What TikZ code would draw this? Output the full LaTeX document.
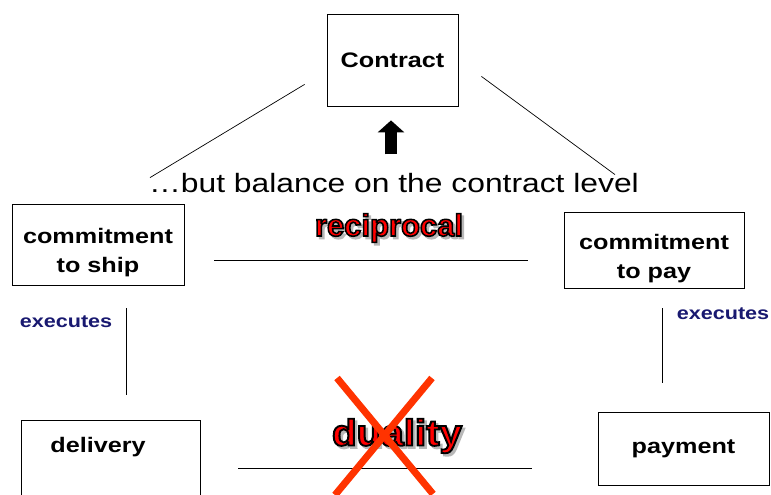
\documentclass[tikz,border=0pt]{standalone}
\usepackage{fontspec}
\setmainfont{Liberation Sans}[FakeStretch=1.2]
\newfontfamily\loudfont{Liberation Sans}[FakeBold=5]
\usetikzlibrary{calc,arrows.meta}

\definecolor{execblue}{RGB}{25,25,112}
\definecolor{crossred}{RGB}{255,51,0}

% black rim round the red words, grey copy as shadow
\newcommand\rimmed[1]{\special{pdf:code 0 0 0 RG}#1}
\newcommand\lowtext[2]{\raisebox{-#1}[\height][\depth]{\begin{tabular}{@{}c@{}}#2\end{tabular}}}

\tikzset{
	box/.style={draw, line width=0.8pt, inner sep=0pt, align=center, font=\bfseries\fontsize{21}{29}\selectfont},
	link/.style={line width=0.7pt},
	exec/.style={text=execblue, inner sep=0pt, font=\bfseries\fontsize{18}{20}\selectfont},
	loud/.style={text=red, inner sep=0pt, font=\loudfont\bfseries\fontsize{31}{31}\selectfont},
	loudshadow/.style={loud, text=black!28},
	xmark/.style={line width=7pt, crossred},
}

\begin{document}
\begin{tikzpicture}[x=1pt,y=-1pt]
	\useasboundingbox (0,0) rectangle (771,495);
	% boxes
	\node[box, minimum width=131pt, minimum height=92pt] (contract) at (392.5,60) {Contract};
	\node[box, minimum width=172pt, minimum height=81pt] (ship) at (98,244.5) {\lowtext{8pt}{commitment\\to ship}};
	\node[box, minimum width=180pt, minimum height=76pt] (pay) at (654,250) {\lowtext{8pt}{commitment\\to pay}};
	\node[box, minimum width=179pt, minimum height=90pt] (delivery) at (110.5,465) {};
	\node[box, draw=none] (deliverytext) at (98,447) {delivery};
	\node[box, minimum width=171pt, minimum height=73pt] (payment) at (683.5,448.5) {payment};
	%
	\node[font=\fontsize{26.5}{30}\selectfont, inner sep=0pt] (balance) at (394,183) {\ldots but balance on the contract level};
	\draw[line width=12pt, -{Triangle[width=26pt,length=12pt]}] ($(contract.south)+(-1.5,48)$) -- ($(contract.south)+(-1.5,14)$);
	% links
	\draw[link] ($(contract.south west)+(-22,-22)$) -- ($(ship.north)+(52,-26)$);
	\draw[link] ($(contract.south east)+(23,-30)$) -- ($(pay.north)+(-39,-37)$);
	\draw[link] ($(ship.east)+(30,15.5)$) -- ($(pay.west)+(-36,10)$);
	\draw[link] ($(ship.south)+(28,23)$) -- ($(delivery.north)+(15.5,-25)$);
	\draw[link] ($(pay.south)+(8,20)$) -- ($(payment.north)+(-21.5,-29)$);
	\draw[link] ($(delivery.east)+(38,3)$) -- ($(payment.west)+(-66,19.5)$);
	%
	\node[exec] (execship) at (66,322) {executes};
	\node[exec] (execpay) at (723,314) {executes};
	%
	\node[loudshadow] (recshadow) at (391.5,230.5) {reciprocal};
	\node[loud] (reciprocal) at (389,228) {\rimmed{reciprocal}};
	\node[loudshadow] (dualshadow) at (399.5,438.5) {\scalebox{1.09}[1]{\fontsize{37}{37}\selectfont duality}};
	\node[loud] (duality) at (397,436) {\scalebox{1.09}[1]{\fontsize{37}{37}\selectfont\rimmed{duality}}};
	\draw[xmark] (337,378) -- (433,494);
	\draw[xmark] (432,378) -- (335,495);
\end{tikzpicture}
\end{document}
